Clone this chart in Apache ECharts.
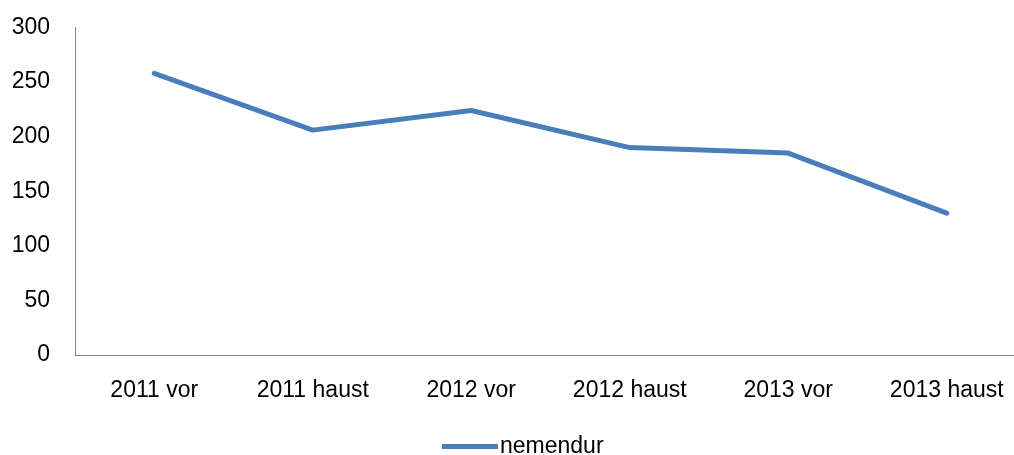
<!DOCTYPE html>
<html>
<head>
<meta charset="utf-8">
<script src="https://cdn.jsdelivr.net/npm/echarts@6/dist/echarts.min.js"></script>
<style>
html,body{margin:0;padding:0;background:#fff;}
#chart{width:1014px;height:455px;}
</style>
</head>
<body>
<div id="chart"></div>
<script>
const categories = ['2011 vor', '2011 haust', '2012 vor', '2012 haust', '2013 vor', '2013 haust'];
const seriesName = 'nemendur';
const values = [258, 206, 224, 190, 185, 130];
const yMin = 0, yMax = 300, yInterval = 50;

const FONT = '"Liberation Sans", Arial, sans-serif';
const chart = echarts.init(document.getElementById('chart'), null, {renderer: 'canvas'});
chart.setOption({
  animation: false,
  backgroundColor: '#ffffff',
  grid: {left: 75, width: 951, top: 27.5, height: 327.5, containLabel: false, outerBoundsMode: 'none'},
  legend: {
    data: [seriesName],
    left: 437,
    top: 430,
    icon: 'rect',
    itemWidth: 56,
    itemHeight: 5,
    itemGap: 0,
    textStyle: {fontFamily: FONT, fontSize: 23, color: '#000', padding: [0, 0, 0, -3]}
  },
  xAxis: {
    type: 'category',
    data: categories,
    boundaryGap: true,
    axisLine: {show: true, lineStyle: {color: '#868686', width: 1}},
    axisTick: {show: false},
    axisLabel: {fontFamily: FONT, fontSize: 23, color: '#000', margin: 24, interval: 0},
    splitLine: {show: false}
  },
  yAxis: {
    type: 'value',
    min: yMin, max: yMax, interval: yInterval,
    axisLine: {show: true, lineStyle: {color: '#868686', width: 1}},
    axisTick: {show: false},
    axisLabel: {fontFamily: FONT, fontSize: 23, color: '#000', margin: 25},
    splitLine: {show: false}
  },
  series: [{
    name: seriesName,
    type: 'line',
    data: values,
    symbol: 'none',
    color: '#4a7ebb',
    lineStyle: {width: 5, color: '#4a7ebb', cap: 'round', join: 'round'}
  }]
});
</script>
</body>
</html>
